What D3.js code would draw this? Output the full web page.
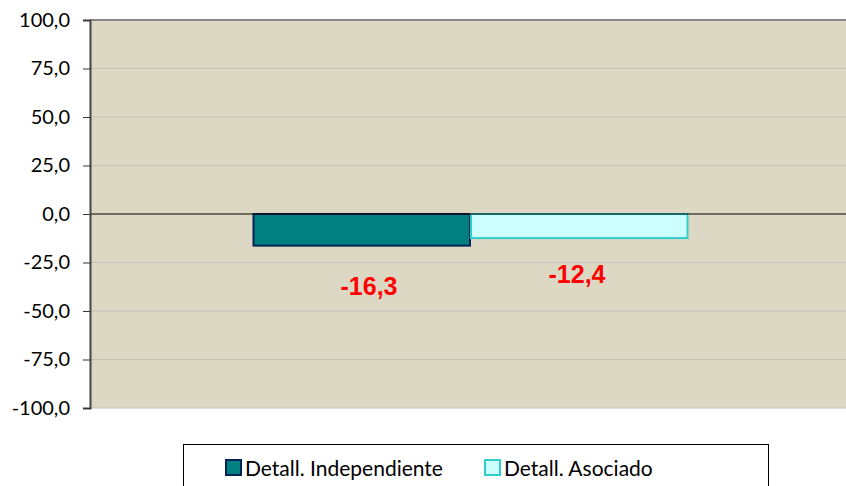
<!DOCTYPE html>
<html><head><meta charset="utf-8">
<script src="https://cdn.jsdelivr.net/npm/d3@7"></script>
<style>body{margin:0;background:#fff;}svg{display:block;}</style>
</head><body>
<svg id="c" width="846" height="486"></svg>
<script>
const categories = ["Detall. Independiente", "Detall. Asociado"];
const values = [-16.3, -12.4];
const labels = ["-16,3", "-12,4"];
const tickValues = [-100, -75, -50, -25, 0, 25, 50, 75, 100];
const colors = ["#008080", "#CCFFFF"];
const strokes = ["#002255", "#33CCCC"];

const svg = d3.select("#c");
const L = 90, R = 846, T = 20, B = 408;
const y = d3.scaleLinear().domain([-100, 100]).range([B, T]);
const x = d3.scaleBand().domain(categories).range([253, 688]).padding(0);
const fmt = v => d3.format(".1f")(v).replace(".", ",").replace("−", "-");

svg.append("rect").attr("x", L).attr("y", T).attr("width", R - L).attr("height", B - T).attr("fill", "#DDD8C4");
svg.append("g").selectAll("line").data(tickValues.filter(v => v !== 0 && v !== 100)).join("line")
  .attr("x1", L).attr("x2", R).attr("y1", d => y(d)).attr("y2", d => y(d))
  .attr("stroke", "#C4C0B4").attr("stroke-width", 1);
svg.append("line").attr("x1", L).attr("x2", R).attr("y1", T).attr("y2", T).attr("stroke", "#888").attr("stroke-width", 2);

svg.append("g").selectAll("rect").data(values).join("rect")
  .attr("x", (d, i) => x(categories[i]) + 0.5)
  .attr("y", d => y(Math.max(0, d)))
  .attr("width", x.bandwidth() - 1)
  .attr("height", d => Math.abs(y(d) - y(0)))
  .attr("fill", (d, i) => colors[i]).attr("stroke", (d, i) => strokes[i]).attr("stroke-width", 2);

svg.append("line").attr("x1", L).attr("x2", R).attr("y1", y(0)).attr("y2", y(0)).attr("stroke", "#000").attr("stroke-width", 1);

const ax = svg.append("g").attr("transform", `translate(${L},0)`)
  .call(d3.axisLeft(y).tickValues(tickValues).tickFormat(fmt).tickSize(7).tickPadding(13));
ax.select(".domain").attr("stroke", "#444").attr("stroke-width", 2);
ax.selectAll(".tick line").attr("stroke", "#333");
ax.selectAll("text").attr("font-family", "Lato, sans-serif").attr("font-size", 20).attr("fill", "#000");

const labelX = [369, 577];
const labelOffsets = [49, 45];
svg.append("g").selectAll("text").data(values).join("text")
  .attr("x", (d, i) => labelX[i])
  .attr("y", (d, i) => y(d) + labelOffsets[i])
  .attr("text-anchor", "middle")
  .attr("font-family", "Liberation Sans, Arial, sans-serif").attr("font-weight", "bold")
  .attr("font-size", 25).attr("fill", "#FF0000")
  .text((d, i) => labels[i]);

// legend
const lg = svg.append("g");
lg.append("rect").attr("x", 183.5).attr("y", 444.5).attr("width", 585).attr("height", 50)
  .attr("fill", "#fff").attr("stroke", "#000").attr("stroke-width", 1);
const lx = [226, 485];
categories.forEach((c, i) => {
  lg.append("rect").attr("x", lx[i]).attr("y", 460).attr("width", 15).attr("height", 15)
    .attr("fill", colors[i]).attr("stroke", strokes[i]).attr("stroke-width", 2);
  lg.append("text").attr("x", lx[i] + 19).attr("y", 476).attr("font-family", "Lato, sans-serif")
    .attr("font-size", 21).attr("fill", "#000").text(c);
});
</script>
</body></html>
